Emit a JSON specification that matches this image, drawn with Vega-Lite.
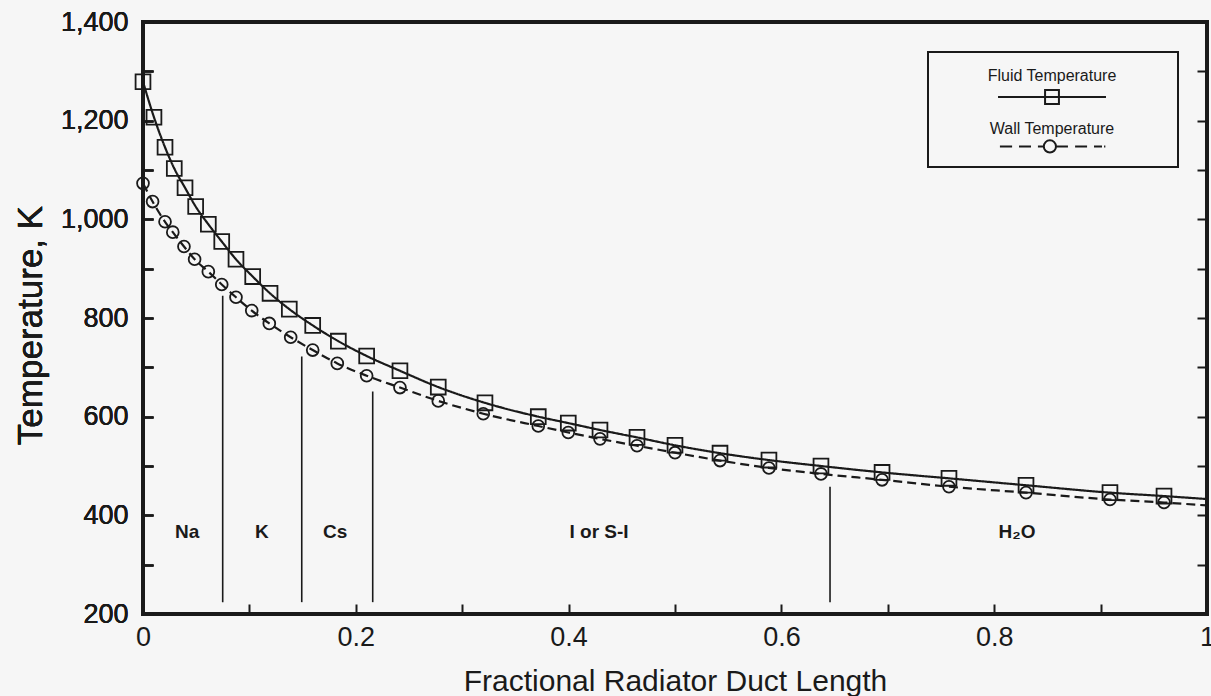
{
  "$schema": "https://vega.github.io/schema/vega-lite/v6.json",
  "width": 1064,
  "height": 592,
  "autosize": {"type": "none"},
  "padding": {"left": 143, "top": 22, "right": 4, "bottom": 82},
  "background": "#f6f6f6",
  "config": {
    "font": "Liberation Sans",
    "view": {"stroke": "#1a1a1a", "strokeWidth": 4},
    "legend": {"strokeWidth": 2}
  },
  "resolve": {"scale": {"shape": "independent"}, "legend": {"shape": "independent"}},
  "datasets": {
    "curves": [
      {"series": "Fluid Temperature", "x": 0.0, "T": 1279, "marker": true},
      {"series": "Fluid Temperature", "x": 0.0103, "T": 1207, "marker": true},
      {"series": "Fluid Temperature", "x": 0.0207, "T": 1146, "marker": true},
      {"series": "Fluid Temperature", "x": 0.0294, "T": 1103, "marker": true},
      {"series": "Fluid Temperature", "x": 0.0395, "T": 1064, "marker": true},
      {"series": "Fluid Temperature", "x": 0.0495, "T": 1026, "marker": true},
      {"series": "Fluid Temperature", "x": 0.0614, "T": 990, "marker": true},
      {"series": "Fluid Temperature", "x": 0.074, "T": 955, "marker": true},
      {"series": "Fluid Temperature", "x": 0.0874, "T": 919, "marker": true},
      {"series": "Fluid Temperature", "x": 0.1031, "T": 884, "marker": true},
      {"series": "Fluid Temperature", "x": 0.1194, "T": 850, "marker": true},
      {"series": "Fluid Temperature", "x": 0.1375, "T": 818, "marker": true},
      {"series": "Fluid Temperature", "x": 0.1595, "T": 785, "marker": true},
      {"series": "Fluid Temperature", "x": 0.1836, "T": 753, "marker": true},
      {"series": "Fluid Temperature", "x": 0.2102, "T": 723, "marker": true},
      {"series": "Fluid Temperature", "x": 0.2415, "T": 693, "marker": true},
      {"series": "Fluid Temperature", "x": 0.2775, "T": 660, "marker": true},
      {"series": "Fluid Temperature", "x": 0.3214, "T": 628, "marker": true},
      {"series": "Fluid Temperature", "x": 0.3715, "T": 600, "marker": true},
      {"series": "Fluid Temperature", "x": 0.3997, "T": 587, "marker": true},
      {"series": "Fluid Temperature", "x": 0.4295, "T": 573, "marker": true},
      {"series": "Fluid Temperature", "x": 0.4643, "T": 558, "marker": true},
      {"series": "Fluid Temperature", "x": 0.5, "T": 542, "marker": true},
      {"series": "Fluid Temperature", "x": 0.5423, "T": 526, "marker": true},
      {"series": "Fluid Temperature", "x": 0.5883, "T": 512, "marker": true},
      {"series": "Fluid Temperature", "x": 0.6372, "T": 500, "marker": true},
      {"series": "Fluid Temperature", "x": 0.6946, "T": 487, "marker": true},
      {"series": "Fluid Temperature", "x": 0.7575, "T": 475, "marker": true},
      {"series": "Fluid Temperature", "x": 0.8299, "T": 461, "marker": true},
      {"series": "Fluid Temperature", "x": 0.9088, "T": 446, "marker": true},
      {"series": "Fluid Temperature", "x": 0.9596, "T": 439, "marker": true},
      {"series": "Fluid Temperature", "x": 1.0, "T": 433, "marker": false},
      {"series": "Wall Temperature", "x": 0.0, "T": 1073, "marker": true},
      {"series": "Wall Temperature", "x": 0.009, "T": 1036, "marker": true},
      {"series": "Wall Temperature", "x": 0.0207, "T": 995, "marker": true},
      {"series": "Wall Temperature", "x": 0.028, "T": 974, "marker": true},
      {"series": "Wall Temperature", "x": 0.0385, "T": 945, "marker": true},
      {"series": "Wall Temperature", "x": 0.0485, "T": 919, "marker": true},
      {"series": "Wall Temperature", "x": 0.0614, "T": 894, "marker": true},
      {"series": "Wall Temperature", "x": 0.074, "T": 868, "marker": true},
      {"series": "Wall Temperature", "x": 0.0874, "T": 842, "marker": true},
      {"series": "Wall Temperature", "x": 0.1022, "T": 815, "marker": true},
      {"series": "Wall Temperature", "x": 0.1187, "T": 789, "marker": true},
      {"series": "Wall Temperature", "x": 0.1388, "T": 761, "marker": true},
      {"series": "Wall Temperature", "x": 0.1595, "T": 735, "marker": true},
      {"series": "Wall Temperature", "x": 0.1826, "T": 708, "marker": true},
      {"series": "Wall Temperature", "x": 0.2102, "T": 683, "marker": true},
      {"series": "Wall Temperature", "x": 0.2415, "T": 659, "marker": true},
      {"series": "Wall Temperature", "x": 0.2775, "T": 632, "marker": true},
      {"series": "Wall Temperature", "x": 0.3198, "T": 606, "marker": true},
      {"series": "Wall Temperature", "x": 0.3715, "T": 581, "marker": true},
      {"series": "Wall Temperature", "x": 0.3997, "T": 568, "marker": true},
      {"series": "Wall Temperature", "x": 0.4295, "T": 555, "marker": true},
      {"series": "Wall Temperature", "x": 0.4643, "T": 541, "marker": true},
      {"series": "Wall Temperature", "x": 0.5, "T": 527, "marker": true},
      {"series": "Wall Temperature", "x": 0.5423, "T": 511, "marker": true},
      {"series": "Wall Temperature", "x": 0.5883, "T": 496, "marker": true},
      {"series": "Wall Temperature", "x": 0.6372, "T": 484, "marker": true},
      {"series": "Wall Temperature", "x": 0.6946, "T": 472, "marker": true},
      {"series": "Wall Temperature", "x": 0.7575, "T": 458, "marker": true},
      {"series": "Wall Temperature", "x": 0.8299, "T": 446, "marker": true},
      {"series": "Wall Temperature", "x": 0.9088, "T": 432, "marker": true},
      {"series": "Wall Temperature", "x": 0.9596, "T": 426, "marker": true},
      {"series": "Wall Temperature", "x": 1.0, "T": 420, "marker": false}
    ],
    "bounds": [
      {"x": 0.0749, "T": 845, "bottom": 224},
      {"x": 0.1492, "T": 722, "bottom": 224},
      {"x": 0.2159, "T": 651, "bottom": 224},
      {"x": 0.6457, "T": 458, "bottom": 224}
    ],
    "regions": [
      {"label": "Na", "x": 0.0414, "T": 366},
      {"label": "K", "x": 0.1118, "T": 366},
      {"label": "Cs", "x": 0.1805, "T": 366},
      {"label": "I or S-I", "x": 0.4286, "T": 366},
      {"label": "H₂O", "x": 0.8214, "T": 366}
    ]
  },
  "encoding": {
    "x": {
      "field": "x", "type": "quantitative",
      "scale": {"domain": [0, 1], "nice": false, "zero": false},
      "axis": {
        "orient": "bottom",
        "values": [0, 0.1, 0.2, 0.3, 0.4, 0.5, 0.6, 0.7, 0.8, 0.9, 1],
        "labelExpr": "round(datum.value * 10) % 2 == 0 ? format(datum.value, '~g') : ''",
        "domain": false, "grid": false,
        "tickSize": -10, "tickWidth": 2, "tickColor": "#1a1a1a",
        "labelFontSize": 27, "labelColor": "#1a1a1a", "labelPadding": 20,
        "labelFlush": false, "labelOverlap": false,
        "title": "Fractional Radiator Duct Length",
        "titleFontSize": 30, "titleFontWeight": "normal", "titleColor": "#1a1a1a",
        "titleX": 532, "titleY": 67, "titleAlign": "center", "titleBaseline": "middle"
      }
    },
    "y": {
      "field": "T", "type": "quantitative",
      "scale": {"domain": [200, 1400], "nice": false, "zero": false},
      "axis": {
        "orient": "left",
        "values": [200, 300, 400, 500, 600, 700, 800, 900, 1000, 1100, 1200, 1300, 1400],
        "labelExpr": "datum.value % 200 == 0 ? format(datum.value, ',') : ''",
        "domain": false, "grid": false,
        "tickSize": -10, "tickWidth": 2, "tickColor": "#1a1a1a",
        "labelFontSize": 27, "labelColor": "#1a1a1a", "labelPadding": 25,
        "labelFlush": false, "labelOverlap": false,
        "title": "Temperature, K",
        "titleFontSize": 35, "titleFontWeight": "normal", "titleColor": "#1a1a1a",
        "titleX": -113, "titleY": 303, "titleAngle": -90, "titleAlign": "center", "titleBaseline": "middle"
      }
    }
  },
  "layer": [
    {
      "data": {"name": "curves"},
      "mark": {"type": "line", "interpolate": "monotone", "color": "#1a1a1a", "strokeWidth": 2.2},
      "encoding": {
        "detail": {"field": "series"},
        "strokeDash": {
          "field": "series", "type": "nominal",
          "scale": {"domain": ["Fluid Temperature", "Wall Temperature"], "range": [[1, 0], [9, 5]]},
          "legend": null
        }
      }
    },
    {
      "data": {"name": "curves"},
      "transform": [{"filter": "datum.marker"}],
      "mark": {"type": "point", "filled": false, "stroke": "#1a1a1a", "strokeWidth": 1.8, "opacity": 1},
      "encoding": {
        "shape": {
          "field": "series", "type": "nominal",
          "scale": {"domain": ["Fluid Temperature", "Wall Temperature"], "range": ["square", "circle"]},
          "legend": null
        },
        "size": {
          "field": "series", "type": "nominal",
          "scale": {"domain": ["Fluid Temperature", "Wall Temperature"], "range": [220, 140]},
          "legend": null
        }
      }
    },
    {
      "data": {"name": "curves"},
      "transform": [{"filter": "datum.marker == 'none'"}],
      "mark": {"type": "point", "filled": false, "stroke": "#1a1a1a", "strokeWidth": 2},
      "encoding": {
        "shape": {
          "field": "series", "type": "nominal",
          "scale": {
            "domain": ["Fluid Temperature", "Wall Temperature"],
            "range": [
              "M5.29,0.62M-2.57,0.62H2.57M-0.33,0.29H0.33V0.95H-0.33Z",
              "M5.29,0.45M-2.48,0.45H-1.9M-1.57,0.45H-1.0M-0.67,0.45H-0.39M0.19,0.45H0.76M1.1,0.45H1.67M2.0,0.45H2.38M2.48,0.45H2.54M0.19,0.45A0.29,0.29 0 1,1 -0.39,0.45A0.29,0.29 0 1,1 0.19,0.45Z"
            ]
          },
          "legend": {
            "title": null,
            "orient": "none", "legendX": 785, "legendY": 30,
            "strokeColor": "#1a1a1a", "padding": 10,
            "symbolSize": 1764, "symbolStrokeWidth": 2, "symbolStrokeColor": "#1a1a1a",
            "symbolFillColor": "transparent", "symbolOpacity": 1,
            "symbolOffset": 92,
            "labelFontSize": 16, "labelColor": "#1a1a1a",
            "labelOffset": -22, "labelAlign": "center", "labelBaseline": "bottom",
            "rowPadding": 7
          }
        }
      }
    },
    {
      "data": {"name": "bounds"},
      "mark": {"type": "rule", "color": "#1a1a1a", "strokeWidth": 1.6},
      "encoding": {
        "y": {
          "field": "T", "type": "quantitative",
          "axis": {
            "orient": "right",
            "values": [200, 300, 400, 500, 600, 700, 800, 900, 1000, 1100, 1200, 1300, 1400],
            "labels": false, "domain": false, "grid": false,
            "tickSize": -10, "tickWidth": 2, "tickColor": "#1a1a1a", "title": null
          }
        },
        "y2": {"field": "bottom"}
      }
    },
    {
      "data": {"name": "regions"},
      "mark": {"type": "text", "fontSize": 19, "fontWeight": "bold", "color": "#1a1a1a", "align": "center", "baseline": "middle"},
      "encoding": {
        "text": {"field": "label"}
      }
    }
  ]
}
